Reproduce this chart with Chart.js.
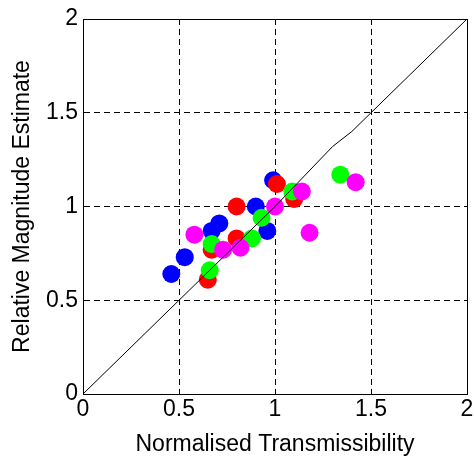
<!DOCTYPE html>
<html>
<head>
<meta charset="utf-8">
<script src="https://cdn.jsdelivr.net/npm/chart.js@4"></script>
<style>
  html, body { margin: 0; padding: 0; background: #fff; }
  #wrap { width: 474px; height: 458px; }
</style>
</head>
<body>
<div id="wrap"><canvas id="scatterChart" width="474" height="458"></canvas></div>
<script>
// --- data ---
const blueX = [0.46, 0.53, 0.67, 0.71, 0.90, 0.96, 0.99];
const blueY = [0.64, 0.73, 0.87, 0.91, 1.00, 0.87, 1.14];

const redX = [0.65, 0.67, 0.80, 0.80, 1.01, 1.10];
const redY = [0.61, 0.77, 0.83, 1.00, 1.12, 1.04];

const greenX = [0.66, 0.67, 0.88, 0.93, 1.09, 1.34];
const greenY = [0.66, 0.80, 0.83, 0.94, 1.08, 1.17];

const magentaX = [0.58, 0.73, 0.82, 1.00, 1.14, 1.42, 1.18];
const magentaY = [0.85, 0.77, 0.78, 1.00, 1.08, 1.13, 0.86];

const refLineX = [0, 1.0, 1.3, 1.4, 2];
const refLineY = [0, 1.0, 1.32, 1.4, 2];

const tickValues = [0, 0.5, 1, 1.5, 2];

function toPoints(xs, ys) {
    return xs.map(function (x, i) { return { x: x, y: ys[i] }; });
}

function dotSet(label, xs, ys, color, order) {
    return {
        label: label,
        data: toPoints(xs, ys),
        backgroundColor: color,
        borderColor: color,
        borderWidth: 0,
        pointRadius: 9,
        showLine: false,
        order: order
    };
}

// draw the closed box round the plot area
const boxPlugin = {
    id: 'box',
    afterDraw: function (chart) {
        const a = chart.chartArea;
        const ctx = chart.ctx;
        ctx.save();
        ctx.strokeStyle = '#000';
        ctx.lineWidth = 1;
        ctx.setLineDash([]);
        ctx.strokeRect(Math.round(a.left) + 0.5, Math.round(a.top) + 0.5,
            Math.round(a.right - a.left), Math.round(a.bottom - a.top));
        ctx.restore();
    }
};

const font = { family: '"Liberation Sans", Arial, sans-serif', size: 23 };
const titleFont = { family: '"Liberation Sans", Arial, sans-serif', size: 23 };

const ctx = document.getElementById('scatterChart').getContext('2d');
new Chart(ctx, {
    type: 'scatter',
    data: {
        datasets: [
            {
                label: 'y = x',
                data: toPoints(refLineX, refLineY),
                showLine: true,
                borderColor: '#000',
                borderWidth: 1,
                pointRadius: 0,
                fill: false,
                order: 0
            },
            dotSet('Set 4', magentaX, magentaY, '#ff00ff', 1),
            dotSet('Set 3', greenX, greenY, '#00ff00', 2),
            dotSet('Set 2', redX, redY, '#ff0000', 3),
            dotSet('Set 1', blueX, blueY, '#0000ff', 4)
        ]
    },
    options: {
        responsive: false,
        animation: false,
        devicePixelRatio: 1,
        layout: {
            autoPadding: false,
            padding: { top: 19, right: 7, left: 0, bottom: 0 }
        },
        plugins: {
            legend: { display: false },
            tooltip: { enabled: false }
        },
        scales: {
            x: {
                type: 'linear',
                min: 0,
                max: 2,
                afterBuildTicks: function (scale) {
                    scale.ticks = tickValues.map(function (v) { return { value: v }; });
                },
                afterFit: function (scale) {
                    scale.height = 64;
                    scale.paddingLeft = 0;
                    scale.paddingRight = 0;
                },
                grid: {
                    color: '#000',
                    lineWidth: 1,
                    drawTicks: false,
                    tickLength: 0
                },
                border: { display: true, color: '#000', dash: [6, 4] },
                ticks: {
                    color: '#000',
                    font: font,
                    padding: 2,
                    maxRotation: 0,
                    callback: function (v) { return String(v); }
                },
                title: {
                    display: true,
                    text: 'Normalised Transmissibility',
                    color: '#000',
                    font: titleFont,
                    padding: { top: 0, bottom: 0 }
                }
            },
            y: {
                type: 'linear',
                min: 0,
                max: 2,
                afterBuildTicks: function (scale) {
                    scale.ticks = tickValues.map(function (v) { return { value: v }; });
                },
                afterFit: function (scale) {
                    scale.width = 83;
                    scale.paddingTop = 0;
                    scale.paddingBottom = 0;
                },
                grid: {
                    color: '#000',
                    lineWidth: 1,
                    drawTicks: false,
                    tickLength: 0
                },
                border: { display: true, color: '#000', dash: [6, 4] },
                ticks: {
                    color: '#000',
                    font: font,
                    padding: 5,
                    callback: function (v) { return String(v); }
                },
                title: {
                    display: true,
                    text: 'Relative Magnitude Estimate',
                    color: '#000',
                    font: titleFont,
                    padding: { top: 9, bottom: 0 }
                }
            }
        }
    },
    plugins: [boxPlugin]
});
</script>
</body>
</html>
